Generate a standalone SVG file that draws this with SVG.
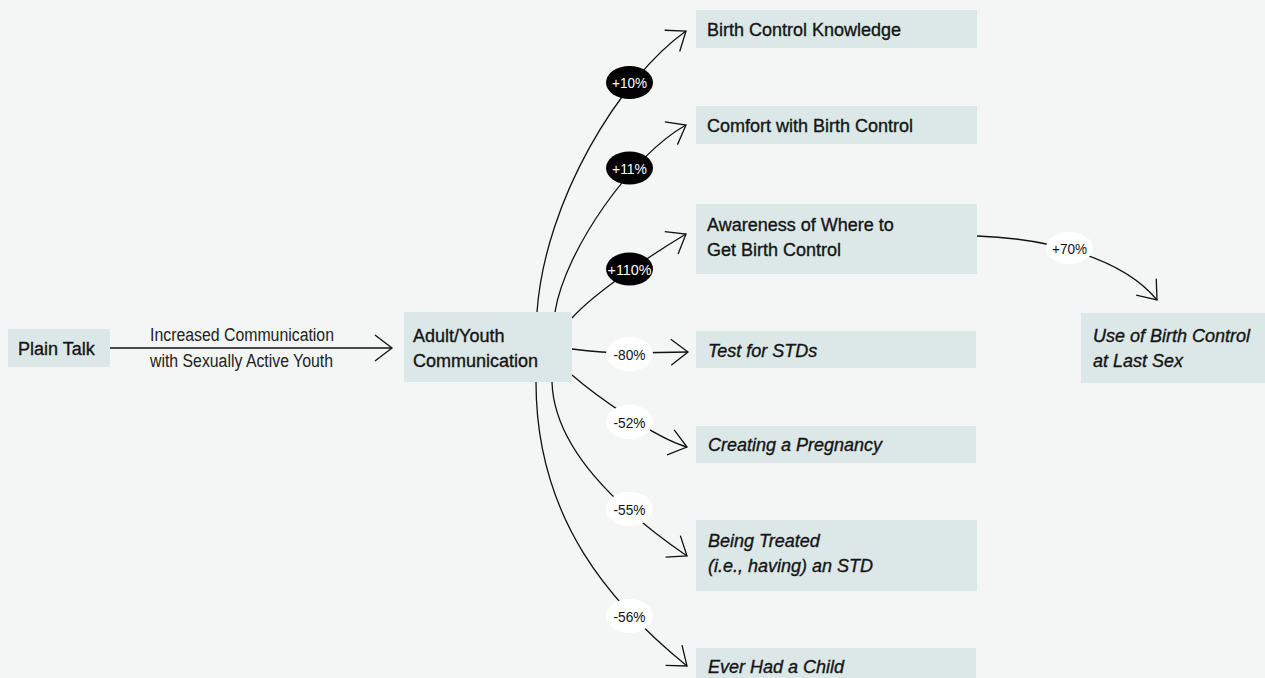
<svg xmlns="http://www.w3.org/2000/svg" width="1265" height="678" viewBox="0 0 1265 678">
<style>
.box{fill:#dce7e7}
.t{font-family:"Liberation Sans",Arial,sans-serif;font-size:18px;fill:#151515;stroke:#151515;stroke-width:0.35}
.i{font-style:italic}
.e{font-family:"Liberation Sans",Arial,sans-serif;font-size:18px;fill:#222}
.c{fill:none;stroke:#111;stroke-width:1.3;marker-end:url(#ah)}
.bl{fill:#000}
.wl{fill:#fff}
.lw{font-family:"Liberation Sans",Arial,sans-serif;font-size:15px;fill:#fff;text-anchor:middle}
.lb{font-family:"Liberation Sans",Arial,sans-serif;font-size:15px;fill:#111;text-anchor:middle}
</style>
<defs>
<marker id="ah" markerUnits="userSpaceOnUse" viewBox="-20 -16 24 32" refX="0" refY="0" markerWidth="24" markerHeight="32" orient="auto" overflow="visible">
<path d="M-17,-13 L0,0 L-17,13" fill="none" stroke="#111" stroke-width="1.3"/>
</marker>
</defs>
<rect width="1265" height="678" fill="#f4f6f5"/>

<g id="connectors">
<path class="c" d="M110,348 L392,348"/>
<path class="c" d="M537,312 C545,200 620,78 686,31"/>
<path class="c" d="M555,312 C565,250 632,155 686,125"/>
<path class="c" d="M572,318 C595,292 656,252 686,234"/>
<path class="c" d="M572,349 C595,352 610,353 629,353 L688,352"/>
<path class="c" d="M572,375 C595,395 655,438 687,447"/>
<path class="c" d="M552,382 C554,450 620,510 687,556"/>
<path class="c" d="M536,382 C536,520 612,605 687,666"/>
<path class="c" d="M977,236 C1040,238 1120,255 1157,300"/>
<g id="edge-labels">
<text class="e" x="150" y="341" textLength="184" lengthAdjust="spacingAndGlyphs">Increased Communication</text>
<text class="e" x="150" y="367" textLength="183" lengthAdjust="spacingAndGlyphs">with Sexually Active Youth</text>
<ellipse class="bl" cx="629.5" cy="82.5" rx="23.5" ry="16.5"/>
<text class="lw" x="629.5" y="88" textLength="35" lengthAdjust="spacingAndGlyphs">+10%</text>
<ellipse class="bl" cx="629.5" cy="168" rx="23.5" ry="16.5"/>
<text class="lw" x="629.5" y="173.5" textLength="35" lengthAdjust="spacingAndGlyphs">+11%</text>
<ellipse class="bl" cx="629.5" cy="269" rx="23.5" ry="16.5"/>
<text class="lw" x="629.5" y="274.5" textLength="44" lengthAdjust="spacingAndGlyphs">+110%</text>
<ellipse class="wl" cx="629.5" cy="354" rx="23.5" ry="17"/>
<text class="lb" x="629.5" y="359.5" textLength="32" lengthAdjust="spacingAndGlyphs">-80%</text>
<ellipse class="wl" cx="629.5" cy="422" rx="23.5" ry="17"/>
<text class="lb" x="629.5" y="427.5" textLength="32" lengthAdjust="spacingAndGlyphs">-52%</text>
<ellipse class="wl" cx="629.5" cy="509" rx="23.5" ry="17"/>
<text class="lb" x="629.5" y="514.5" textLength="32" lengthAdjust="spacingAndGlyphs">-55%</text>
<ellipse class="wl" cx="629.5" cy="616" rx="23.5" ry="17"/>
<text class="lb" x="629.5" y="621.5" textLength="32" lengthAdjust="spacingAndGlyphs">-56%</text>
<ellipse class="wl" cx="1069.5" cy="248" rx="23.5" ry="16"/>
<text class="lb" x="1069.5" y="253.5" textLength="35" lengthAdjust="spacingAndGlyphs">+70%</text>
</g>
</g>

<g id="plain-talk">
<rect class="box" x="8" y="329" width="102" height="38"/>
<text class="t" x="18" y="355">Plain Talk</text>
</g>
<g id="adult-youth">
<rect class="box" x="404" y="312" width="168" height="70"/>
<text class="t" x="413" y="342">Adult/Youth</text>
<text class="t" x="413" y="367">Communication</text>
</g>
<g id="bc-knowledge">
<rect class="box" x="696" y="10" width="281" height="38"/>
<text class="t" x="707" y="36">Birth Control Knowledge</text>
</g>
<g id="bc-comfort">
<rect class="box" x="696" y="106" width="281" height="38"/>
<text class="t" x="707" y="132">Comfort with Birth Control</text>
</g>
<g id="bc-awareness">
<rect class="box" x="696" y="204" width="281" height="70"/>
<text class="t" x="707" y="231">Awareness of Where to</text>
<text class="t" x="707" y="256">Get Birth Control</text>
</g>
<g id="test-stds">
<rect class="box" x="696" y="331" width="280" height="37"/>
<text class="t i" x="708" y="357">Test for STDs</text>
</g>
<g id="pregnancy">
<rect class="box" x="696" y="426" width="280" height="37"/>
<text class="t i" x="708" y="451">Creating a Pregnancy</text>
</g>
<g id="treated-std">
<rect class="box" x="696" y="520" width="281" height="71"/>
<text class="t i" x="708" y="547">Being Treated</text>
<text class="t i" x="708" y="572">(i.e., having) an STD</text>
</g>
<g id="had-child">
<rect class="box" x="696" y="648" width="280" height="38"/>
<text class="t i" x="708" y="673">Ever Had a Child</text>
</g>
<g id="bc-use">
<rect class="box" x="1081" y="313" width="184" height="70"/>
<text class="t i" x="1093" y="342">Use of Birth Control</text>
<text class="t i" x="1093" y="367">at Last Sex</text>
</g>
</svg>
